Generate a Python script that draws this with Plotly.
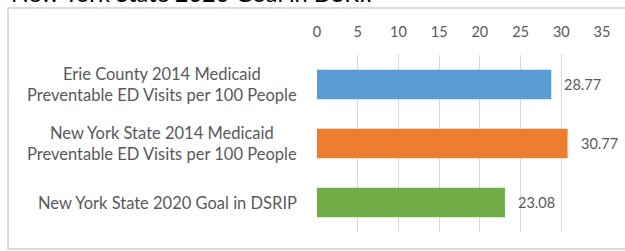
import plotly.graph_objects as go

categories = [
    "Erie County 2014 Medicaid<br>Preventable ED Visits per 100 People",
    "New York State 2014 Medicaid<br>Preventable ED Visits per 100 People",
    "New York State 2020 Goal in DSRIP",
]
values = [28.77, 30.77, 23.08]
colors = ["#5B9BD5", "#ED7D31", "#70AD47"]
tick_vals = [0, 5, 10, 15, 20, 25, 30, 35]
title_text = "New York State 2020 Goal in DSRIP"

FONT = "Lato, Liberation Sans, sans-serif"
GRAY = "#595959"

fig = go.Figure()
fig.add_trace(go.Bar(
    y=categories, x=values, orientation="h",
    marker=dict(color=colors, line=dict(width=0)),
    width=0.5, hoverinfo="skip",
))

annotations = []
for c, v in zip(categories, values):
    annotations.append(dict(x=v, y=c, xref="x", yref="y", text=f"{v:.2f}",
                            showarrow=False, xanchor="left", xshift=11,
                            font=dict(family=FONT, size=14.5, color=GRAY)))
    annotations.append(dict(x=0, y=c, xref="paper", yref="y", text=c,
                            showarrow=False, xanchor="right", align="center",
                            xshift=-18, font=dict(family=FONT, size=16.5, color=GRAY)))
annotations.append(dict(x=0, y=1.262, xref="paper", yref="paper", text=title_text,
                        showarrow=False, xanchor="left", yanchor="bottom", xshift=-308,
                        font=dict(family=FONT, size=23.5, color="#000000")))

fig.update_layout(
    width=625, height=251,
    margin=dict(l=317, r=23, t=55, b=19),
    paper_bgcolor="white", plot_bgcolor="white",
    showlegend=False,
    bargap=0.5,
    annotations=annotations,
    shapes=[dict(type="rect", xref="paper", yref="paper",
                 x0=-1.084, x1=1.2, y0=-0.096, y1=1.266,
                 line=dict(color="#D0D0D0", width=1.5), layer="below")],
    xaxis=dict(range=[0, 35], tickvals=tick_vals, side="top",
               showgrid=True, gridcolor="#D9D9D9", gridwidth=1,
               zeroline=False, showline=False, ticks="",
               ticklabelstandoff=14,
               tickfont=dict(family=FONT, size=14.5, color=GRAY)),
    yaxis=dict(autorange="reversed", showticklabels=False, showgrid=False,
               zeroline=False, showline=False, ticks=""),
)
fig.write_html("out.html", config={"displayModeBar": False},
               post_script="document.body.style.margin='0';document.body.style.overflow='hidden';")
